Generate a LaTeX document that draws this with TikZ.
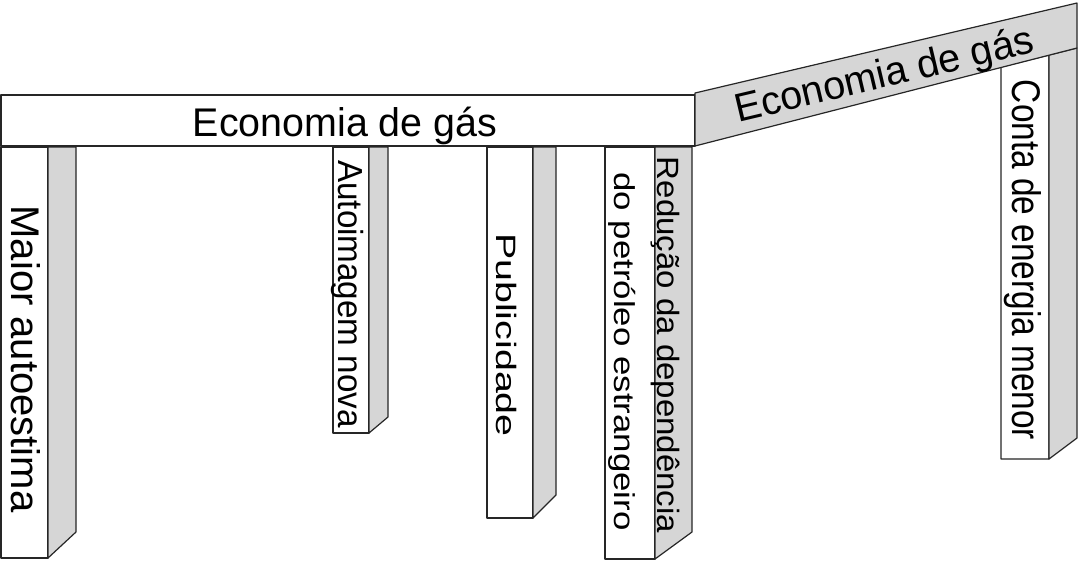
\documentclass[tikz,border=0pt]{standalone}
\usepackage{fontspec}
\setmainfont{Liberation Sans}
\tikzset{
  figline/.style={draw=black!85, line width=1.2pt, line join=round},
  frontface/.style={figline, fill=white},
  sideface/.style={figline, fill=gray!32},
  panellabel/.style={inner sep=0pt, text height=28.6pt, text depth=0pt,
    font=\fontsize{40}{48}\selectfont},
  leglabel/.style={panellabel, rotate=-90},
}
\begin{document}
\begin{tikzpicture}[x=1pt, y=-1pt]
  \useasboundingbox (0,0) rectangle (1081,571);

  % Legs: front face, then side face
  \draw[frontface] (1,147) rectangle (48,558);
  \draw[sideface] (48,147) -- (76,147) -- (76,532) -- (48,558) -- cycle;
  \draw[frontface] (333,147) rectangle (369,433);
  \draw[sideface] (369,147) -- (388,147) -- (388,417) -- (369,433) -- cycle;
  \draw[frontface] (487,147) rectangle (533,518);
  \draw[sideface] (533,147) -- (556,147) -- (556,495) -- (533,518) -- cycle;
  \draw[frontface] (605,147) rectangle (655,559);
  \draw[sideface] (655,147) -- (692,147) -- (692,532) -- (655,559) -- cycle;
  \draw[frontface] (1001,67) -- (1049,55) -- (1049,459) -- (1001,459) -- cycle;
  \draw[sideface] (1049,55) -- (1077,48) -- (1077,438) -- (1049,459) -- cycle;

  % Boards
  \draw[frontface] (1,95) rectangle (695,146);
  \draw[sideface] (695,93) -- (1077,3) -- (1077,48) -- (695,146) -- cycle;

  % Board labels
  \node[panellabel, xscale=0.985] (frontboard) at (345,122) {Economia de gás};
  \node[panellabel, rotate=13.3, xscale=0.99] (sideboard) at (884,73) {Economia de gás};

  % Leg labels
  \node[leglabel] (selfesteem) at (26,359) {Maior autoestima};
  \node[leglabel, xscale=0.83, yscale=0.87] (selfimage) at (350.5,294) {Autoimagem nova};
  \node[leglabel, xscale=0.985, yscale=0.7] (publicity) at (507,335) {Publicidade};
  \node[leglabel, xscale=0.87, yscale=0.72] (oilfront) at (625,351.5) {do petróleo estrangeiro};
  \node[leglabel, xscale=0.825, yscale=0.77] (oilside) at (669,345) {Redução da dependência};
  \node[leglabel, xscale=0.835] (energybill) at (1027,260) {Conta de energia menor};
\end{tikzpicture}
\end{document}
